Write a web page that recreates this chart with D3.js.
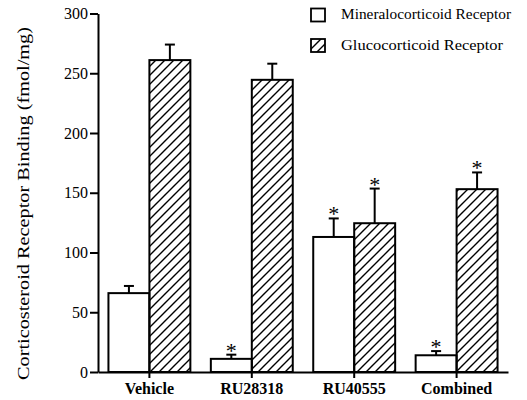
<!DOCTYPE html>
<html>
<head>
<meta charset="utf-8">
<script src="https://cdn.jsdelivr.net/npm/d3@7"></script>
<style>
  body { margin: 0; background: #fff; }
  svg { display: block; }
  svg text { font-family: "Liberation Serif", "Times New Roman", serif; fill: #000; }
</style>
</head>
<body>
<svg id="chart" width="527" height="400"></svg>
<script>
"use strict";

// values (fmol/mg)
const categories = ["Vehicle", "RU28318", "RU40555", "Combined"];
const seriesNames = ["Mineralocorticoid Receptor", "Glucocorticoid Receptor"];
const mrValues = [66, 11, 113, 14];
const mrErrors = [6, 3.5, 15.5, 3.5];
const mrStars = [false, true, true, true];
const grValues = [261, 244.5, 124.5, 153];
const grErrors = [13, 13.5, 29, 14];
const grStars = [false, false, true, true];
const yTicks = [0, 50, 100, 150, 200, 250, 300];

const svg = d3.select("#chart");

// hatch pattern for the glucocorticoid bars
svg.append("defs")
    .append("pattern")
    .attr("id", "hatch")
    .attr("patternUnits", "userSpaceOnUse")
    .attr("width", 9)
    .attr("height", 9)
    .append("path")
    .attr("d", "M-2,2 L2,-2 M0,9 L9,0 M7,11 L11,7")
    .attr("stroke", "#000")
    .attr("stroke-width", 1.4);

const x0 = d3.scaleBand()
    .domain(categories)
    .range([98, 508])
    .paddingInner(0.2)
    .paddingOuter(0.102);

const x1 = d3.scaleBand()
    .domain(["mr", "gr"])
    .range([0, x0.bandwidth()]);

const y = d3.scaleLinear()
    .domain([0, 300])
    .range([372, 13.5]);

// build one record per bar
const bars = [];
categories.forEach(function(c, i) {
    bars.push({cat: c, key: "mr", value: mrValues[i], err: mrErrors[i], star: mrStars[i]});
    bars.push({cat: c, key: "gr", value: grValues[i], err: grErrors[i], star: grStars[i]});
});

const g = svg.append("g");

g.selectAll("rect.bar")
    .data(bars)
    .enter()
    .append("rect")
    .attr("class", "bar")
    .attr("x", d => x0(d.cat) + x1(d.key))
    .attr("y", d => y(d.value))
    .attr("width", x1.bandwidth())
    .attr("height", d => y(0) - y(d.value))
    .attr("fill", d => d.key === "gr" ? "url(#hatch)" : "#fff")
    .attr("stroke", "#000")
    .attr("stroke-width", 2);

// error bars, upper half only
const barCenter = d => x0(d.cat) + x1(d.key) + x1.bandwidth() / 2;

g.selectAll("line.err")
    .data(bars)
    .enter()
    .append("line")
    .attr("x1", barCenter)
    .attr("x2", barCenter)
    .attr("y1", d => y(d.value))
    .attr("y2", d => y(d.value + d.err))
    .attr("stroke", "#000")
    .attr("stroke-width", 2);

g.selectAll("line.cap")
    .data(bars)
    .enter()
    .append("line")
    .attr("x1", d => barCenter(d) - 5)
    .attr("x2", d => barCenter(d) + 5)
    .attr("y1", d => y(d.value + d.err))
    .attr("y2", d => y(d.value + d.err))
    .attr("stroke", "#000")
    .attr("stroke-width", 2);

g.selectAll("text.star")
    .data(bars.filter(d => d.star))
    .enter()
    .append("text")
    .attr("x", barCenter)
    .attr("y", d => y(d.value + d.err) + 3)
    .attr("text-anchor", "middle")
    .attr("font-size", 22)
    .text("*");

// y axis
const yAxis = svg.append("g")
    .attr("transform", "translate(98,0)")
    .call(d3.axisLeft(y).tickValues(yTicks).tickSize(8).tickSizeOuter(0).tickPadding(2));

yAxis.attr("font-family", null);
yAxis.select(".domain").attr("stroke-width", 2);
yAxis.selectAll(".tick line").attr("stroke-width", 2);
yAxis.selectAll(".tick text")
    .attr("font-size", 16);

// x axis
const xAxis = svg.append("g")
    .attr("transform", "translate(0,372)")
    .call(d3.axisBottom(x0).tickSize(6).tickSizeOuter(0).tickPadding(5));

xAxis.attr("font-family", null);
xAxis.select(".domain").attr("stroke-width", 2);
xAxis.selectAll(".tick line").attr("stroke-width", 2);
xAxis.selectAll(".tick text")
    .attr("font-size", 16)
    .attr("font-weight", "bold");

// y axis title
svg.append("text")
    .attr("transform", "translate(29,203.5) rotate(-90)")
    .attr("text-anchor", "middle")
    .attr("font-size", 17)
    .attr("textLength", 353)
    .attr("lengthAdjust", "spacingAndGlyphs")
    .text("Corticosteroid Receptor Binding (fmol/mg)");

// legend
const legendY = [8.5, 39];
const legendLen = [170, 162];
const legend = svg.append("g");
seriesNames.forEach(function(name, i) {
    legend.append("rect")
        .attr("x", 311)
        .attr("y", legendY[i])
        .attr("width", 14)
        .attr("height", 13)
        .attr("fill", i === 1 ? "url(#hatch)" : "#fff")
        .attr("stroke", "#000")
        .attr("stroke-width", 1.8);
    legend.append("text")
        .attr("x", 341)
        .attr("y", legendY[i] + 10.5)
        .attr("font-size", 15)
        .attr("textLength", legendLen[i])
        .attr("lengthAdjust", "spacingAndGlyphs")
        .text(name);
});
</script>
</body>
</html>
